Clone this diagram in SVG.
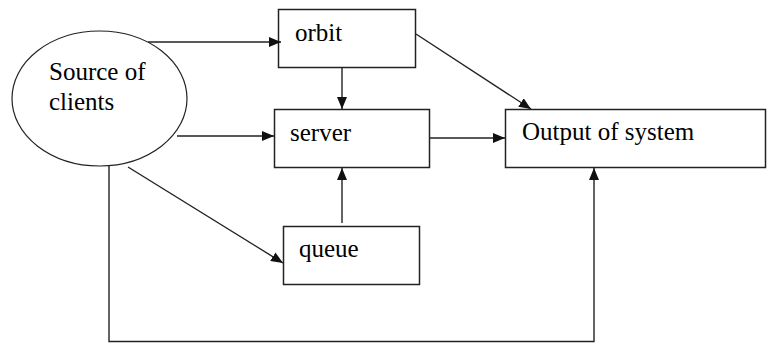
<svg xmlns="http://www.w3.org/2000/svg" width="767" height="343" viewBox="0 0 767 343">
<defs>
<marker id="ah" viewBox="0 0 12 10" refX="12" refY="5" markerWidth="12" markerHeight="10" markerUnits="userSpaceOnUse" orient="auto">
<path d="M0,0 L12,5 L0,10 Z" fill="#111"/>
</marker>
<style>
.box{fill:#fff;stroke:#222;stroke-width:1.5}
.lbl{font-family:"Liberation Serif","Times New Roman",serif;font-size:25px;fill:#000}
.c{fill:none;stroke:#222;stroke-width:1.4}
.a{marker-end:url(#ah)}
</style>
</defs>
<rect width="767" height="343" fill="#fff"/>
<g id="source">
<ellipse class="box" cx="99.5" cy="98.5" rx="87.5" ry="67.5" style="stroke-width:1.2"/>
<text class="lbl" x="49" y="80">Source of</text>
<text class="lbl" x="49" y="110">clients</text>
</g>
<g id="orbit">
<rect class="box" x="278.5" y="9.5" width="137" height="58"/>
<text class="lbl" x="295" y="41">orbit</text>
</g>
<g id="server">
<rect class="box" x="274.5" y="109.5" width="155" height="58"/>
<text class="lbl" x="290" y="141">server</text>
</g>
<g id="output">
<rect class="box" x="505.5" y="109.5" width="260" height="58"/>
<text class="lbl" x="522" y="140">Output of system</text>
</g>
<g id="queue">
<rect class="box" x="283.5" y="226.5" width="136" height="58"/>
<text class="lbl" x="299" y="257">queue</text>
</g>
<g id="connectors">
<line class="c a" x1="148" y1="42" x2="281" y2="42"/>
<line class="c a" x1="177" y1="136" x2="274" y2="136"/>
<line class="c a" x1="342" y1="68" x2="342" y2="109"/>
<line class="c a" x1="342" y1="223" x2="342" y2="168"/>
<line class="c a" x1="430" y1="138" x2="505" y2="138"/>
<line class="c a" x1="416" y1="34" x2="531" y2="109"/>
<line class="c a" x1="128" y1="167" x2="283" y2="263"/>
<polyline class="c a" points="109,166 109,341.5 594,341.5 594,168"/>
</g>
</svg>
